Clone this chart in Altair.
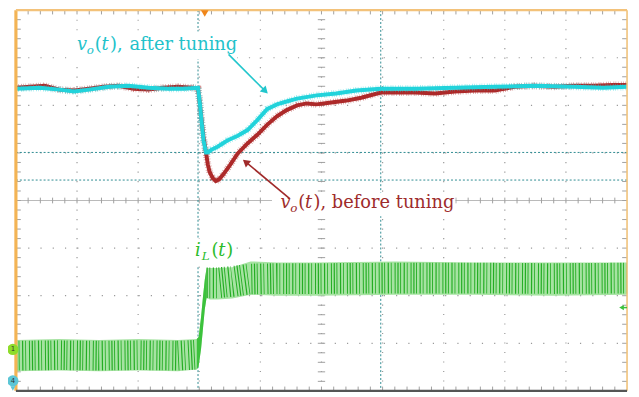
import altair as alt
import pandas as pd

# ---------------- data (time in divisions 0..10, amplitude in divisions 0..8) -------------
red_t = [0, 0.23, 0.47, 0.71, 0.96, 1.20, 1.44, 1.68, 1.93, 2.17, 2.41, 2.65, 2.90, 2.98,
         3.01, 3.04, 3.07, 3.11, 3.14, 3.17, 3.22, 3.27, 3.33, 3.40, 3.50, 3.63, 3.79, 3.95,
         4.11, 4.27, 4.43, 4.60, 4.76, 4.92, 5.16, 5.41, 5.65, 5.97, 6.21, 6.54, 6.86, 7.18,
         7.51, 7.83, 8.16, 8.48, 8.80, 9.13, 9.45, 9.77, 10.0]
red_v = [6.37, 6.39, 6.41, 6.33, 6.31, 6.35, 6.39, 6.41, 6.35, 6.33, 6.37, 6.39, 6.37, 6.35,
         6.04, 5.67, 5.32, 5.01, 4.76, 4.60, 4.47, 4.41, 4.45, 4.56, 4.74, 4.99, 5.20, 5.38,
         5.59, 5.77, 5.90, 6.00, 6.04, 6.02, 6.06, 6.10, 6.16, 6.27, 6.27, 6.27, 6.25, 6.29,
         6.31, 6.31, 6.39, 6.41, 6.39, 6.41, 6.41, 6.43, 6.43]

cyan_t = [0, 0.39, 0.71, 0.95, 1.20, 1.52, 1.84, 2.17, 2.49, 2.73, 2.98, 3.01, 3.04, 3.07,
          3.11, 3.14, 3.20, 3.30, 3.46, 3.63, 3.79, 3.95, 4.11, 4.27, 4.43, 4.60, 4.92, 5.24,
          5.57, 5.97, 6.54, 7.18, 7.83, 8.48, 9.13, 9.61, 10.0]
cyan_v = [6.35, 6.37, 6.33, 6.29, 6.33, 6.39, 6.41, 6.37, 6.35, 6.35, 6.37, 6.04, 5.63, 5.26,
          5.01, 5.01, 5.07, 5.13, 5.26, 5.36, 5.48, 5.69, 5.92, 6.02, 6.08, 6.14, 6.21, 6.25,
          6.31, 6.35, 6.35, 6.37, 6.39, 6.41, 6.39, 6.37, 6.39]

il_t = [0, 0.71, 1.36, 2.01, 2.65, 2.96, 2.99, 3.03, 3.06, 3.09, 3.12, 3.17, 3.30, 3.54,
        3.84, 4.27, 4.92, 6.21, 7.51, 8.80, 10.0]
il_mid = [0.74, 0.75, 0.74, 0.75, 0.74, 0.76, 0.93, 1.30, 1.71, 2.08, 2.27, 2.27, 2.27, 2.30,
          2.35, 2.36, 2.36, 2.37, 2.37, 2.36, 2.37]
il_hi = [1.07, 1.09, 1.07, 1.09, 1.07, 1.09, 1.13, 1.55, 1.96, 2.33, 2.58, 2.58, 2.58, 2.60,
         2.72, 2.70, 2.70, 2.72, 2.70, 2.70, 2.70]
il_lo = [0.41, 0.43, 0.41, 0.43, 0.41, 0.45, 0.52, 0.89, 1.30, 1.71, 1.96, 1.92, 1.92, 1.94,
         2.02, 2.00, 2.00, 2.02, 2.02, 2.00, 2.02]

# cursor positions (divisions)
cursor_x = [2.98, 5.97]
cursor_y = [5.01, 4.43]

W, H = 618, 385
X = alt.Scale(domain=[0, 10], nice=False, zero=False)
Y = alt.Scale(domain=[0, 8], nice=False, zero=False)


def xq(f):
    return alt.X(f + ":Q", scale=X, axis=None)


def yq(f):
    return alt.Y(f + ":Q", scale=Y, axis=None)


# ---------------- grid -----------------
vgrid = pd.DataFrame({"x": [1, 2, 3, 4, 5, 6, 7, 8, 9]})
hgrid = pd.DataFrame({"y": [1, 2, 3, 5, 6, 7]})
grid_v = alt.Chart(vgrid).mark_rule(color="#9a9a9a", strokeWidth=1.2, strokeDash=[1.2, 8.4]).encode(
    x=xq("x"), y=alt.value(0), y2=alt.value(H))
grid_h = alt.Chart(hgrid).mark_rule(color="#9a9a9a", strokeWidth=1.2, strokeDash=[1.2, 11.2]).encode(
    y=yq("y"), x=alt.value(0), x2=alt.value(W))
center_h = alt.Chart(pd.DataFrame({"y": [4]})).mark_rule(color="#b9b9b9", strokeWidth=1).encode(
    y=yq("y"), x=alt.value(0), x2=alt.value(W))

# minor ticks
tk = []
for k in range(1, 50):
    xv = k * 0.2
    tk.append((xv, xv, 8, 7.91))
    tk.append((xv, xv, 0, 0.09))
    tk.append((xv, xv, 3.94, 4.06))
for k in range(1, 40):
    yv = k * 0.2
    tk.append((0, 0.08, yv, yv))
    tk.append((10, 9.92, yv, yv))
    tk.append((4.94, 5.06, yv, yv))
ticks_df = pd.DataFrame(tk, columns=["x", "x2", "y", "y2"])
ticks = alt.Chart(ticks_df).mark_rule(color="#a0a0a0", strokeWidth=1).encode(
    x=xq("x"), x2="x2:Q", y=yq("y"), y2="y2:Q")

# cursors
cur_v = alt.Chart(pd.DataFrame({"x": cursor_x})).mark_rule(
    color="#2f8c92", strokeWidth=1, strokeDash=[2, 2]).encode(x=xq("x"), y=alt.value(0), y2=alt.value(H))
cur_h = alt.Chart(pd.DataFrame({"y": cursor_y})).mark_rule(
    color="#2f8c92", strokeWidth=1, strokeDash=[2, 2]).encode(y=yq("y"), x=alt.value(0), x2=alt.value(W))

# white boxes behind labels
boxes = pd.DataFrame({
    "x": [0.95, 4.19, 2.88], "x2": [3.62, 7.19, 3.59],
    "y": [7.55, 4.17, 3.20], "y2": [6.97, 3.67, 2.62]})
box = alt.Chart(boxes).mark_rect(color="white").encode(x=xq("x"), x2="x2:Q", y=yq("y"), y2="y2:Q")

# ---------------- traces -----------------
red_df = pd.DataFrame({"t": red_t, "v": red_v})
cyan_df = pd.DataFrame({"t": cyan_t, "v": cyan_v})
n = len(il_t)
il_df = pd.DataFrame({"t": il_t, "mid": il_mid, "hi": il_hi, "lo": il_lo,
                      "seg_pre": [1 if i <= 5 else 0 for i in range(n)],
                      "seg_step": [1 if 5 <= i <= 10 else 0 for i in range(n)],
                      "seg_post": [1 if i >= 10 else 0 for i in range(n)]})


def vtrace(df, col):
    base = alt.Chart(df).encode(x=xq("t"), y=yq("v"), order="t:Q")
    return (base.mark_line(color=col, strokeWidth=4) +
            base.mark_line(color=col, strokeWidth=7, strokeDash=[0.7, 1.7, 0.6, 2.4, 0.8, 1.3],
                           opacity=0.5))


red = vtrace(red_df, "#ad2a2a")
cyan = vtrace(cyan_df, "#22d3db")

RIPPLE = [1.2, 1.6, 0.9, 2.6, 1.2, 2.0, 0.8, 3.0, 1.0, 1.8]
il_base = alt.Chart(il_df)
il_band = il_base.mark_area(color="#a6e3a2", opacity=1).encode(
    x=xq("t"), y=yq("lo"), y2=alt.Y2("hi:Q"))
il_step = il_base.transform_filter("datum.seg_step == 1").mark_area(color="#3cc23c", opacity=1).encode(
    x=xq("t"), y=yq("lo"), y2=alt.Y2("hi:Q"))
il_pre = il_base.transform_filter("datum.seg_pre == 1").mark_line(
    color="#23ad23", strokeWidth=30, strokeDash=RIPPLE).encode(x=xq("t"), y=yq("mid"), order="t:Q")
il_post = il_base.transform_filter("datum.seg_post == 1").mark_line(
    color="#23ad23", strokeWidth=31, strokeDash=RIPPLE).encode(x=xq("t"), y=yq("mid"), order="t:Q")

# ---------------- labels -----------------
CY, RD, GR = "#22c2ca", "#9e2c2c", "#2cbc2c"
lab = pd.DataFrame([
    # text, x, y, size, color, italic
    ("v", 1.00, 7.155, 18, CY, True),
    ("o", 1.16, 7.07, 12, CY, True),
    ("(", 1.29, 7.155, 18, CY, False),
    ("t", 1.40, 7.155, 18, CY, True),
    ("),", 1.54, 7.155, 18, CY, False),
    ("after tuning", 1.86, 7.155, 18, CY, False),
    ("v", 4.33, 3.835, 18, RD, True),
    ("o", 4.49, 3.75, 12, RD, True),
    ("(", 4.62, 3.835, 18, RD, False),
    ("t", 4.73, 3.835, 18, RD, True),
    ("),", 4.87, 3.835, 18, RD, False),
    ("before tuning", 5.17, 3.835, 18, RD, False),
    ("i", 2.93, 2.825, 18, GR, True),
    ("L", 3.04, 2.74, 12, GR, True),
    ("(", 3.20, 2.825, 18, GR, False),
    ("t", 3.31, 2.825, 18, GR, True),
    (")", 3.44, 2.825, 18, GR, False),
], columns=["text", "x", "y", "size", "color", "italic"])


def txt(it):
    return alt.Chart(lab).transform_filter(
        "datum.italic" if it else "!datum.italic").mark_text(
        align="left", baseline="alphabetic", font="DejaVu Serif",
        fontStyle="italic" if it else "normal").encode(
        x=xq("x"), y=yq("y"), text="text:N",
        size=alt.Size("size:Q", scale=None), color=alt.Color("color:N", scale=None))


labels = txt(True) + txt(False)

# ---------------- arrows -----------------
arr = pd.DataFrame({"x": [3.48, 4.48], "y": [7.07, 4.04], "x2": [4.08, 3.76], "y2": [6.30, 4.81],
                    "color": ["#22c6cc", "#a02a2a"], "ang": [135, 310]})
arr_line = alt.Chart(arr).mark_rule(strokeWidth=1.6).encode(
    x=xq("x"), y=yq("y"), x2="x2:Q", y2="y2:Q", color=alt.Color("color:N", scale=None))
arr_head = alt.Chart(arr).mark_point(shape="triangle-up", filled=True, size=70, opacity=1).encode(
    x=xq("x2"), y=yq("y2"), color=alt.Color("color:N", scale=None), angle=alt.Angle("ang:Q", scale=None))

# ---------------- scope markers -----------------
mk = pd.DataFrame([
    (3.09, 7.93, "triangle-down", 60, "#f0861a"),
    (-0.05, 0.87, "circle", 130, "#8edc2a"),
    (-0.05, 0.21, "circle", 130, "#5cc6d6"),
    (-0.05, 0.05, "triangle-down", 25, "#5cc6d6"),
    (9.91, 1.75, "triangle-left", 30, "#3cc23c"),
], columns=["x", "y", "shape", "size", "color"])
markers = alt.Chart(mk).mark_point(filled=True, opacity=1).encode(
    x=xq("x"), y=yq("y"), shape=alt.Shape("shape:N", scale=None),
    size=alt.Size("size:Q", scale=None), color=alt.Color("color:N", scale=None))
mk_txt = alt.Chart(pd.DataFrame({"x": [-0.05, -0.05], "y": [0.87, 0.21], "t": ["1", "4"]})).mark_text(
    fontSize=7, font="DejaVu Sans", color="#333", baseline="middle").encode(x=xq("x"), y=yq("y"), text="t:N")
mk_arrow = alt.Chart(pd.DataFrame({"x": [9.92], "x2": [10.0], "y": [1.75]})).mark_rule(
    color="#3cc23c", strokeWidth=1.5).encode(x=xq("x"), x2="x2:Q", y=yq("y"))

# ---------------- frame -----------------
frame = pd.DataFrame([
    (0, 0, 0, 8, "#f3b455", 3.2),
    (0, 10, 8, 8, "#f3c27a", 2.2),
    (10, 10, 0, 8, "#f0c27a", 1.6),
    (0, 10, 0, 0, "#555555", 2.2),
], columns=["x", "x2", "y", "y2", "color", "w"])
frame_ch = alt.Chart(frame).mark_rule().encode(
    x=xq("x"), x2="x2:Q", y=yq("y"), y2="y2:Q", color=alt.Color("color:N", scale=None),
    strokeWidth=alt.StrokeWidth("w:Q", scale=None))

chart = alt.layer(
    grid_v, grid_h, center_h, ticks, cur_v, cur_h, box,
    il_band, il_step, il_pre, il_post, red, cyan,
    labels, arr_line, arr_head, frame_ch, markers, mk_txt, mk_arrow
).properties(
    width=W, height=H,
    autosize=alt.AutoSizeParams(type="none"),
    padding={"left": 8, "top": 0, "right": 4, "bottom": 2},
    background="white"
).configure_view(stroke=None)

chart.save("out.html", embed_options={"renderer": "svg", "actions": False})
